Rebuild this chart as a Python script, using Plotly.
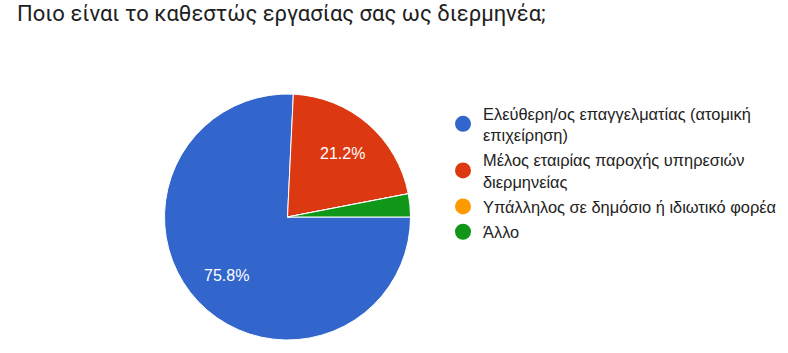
import math
import plotly.graph_objects as go

W, H = 788, 353

title_text = "Ποιο είναι το καθεστώς εργασίας σας ως διερμηνέα;"
categories = [
    "Ελεύθερη/ος επαγγελματίας (ατομική<br>επιχείρηση)",
    "Μέλος εταιρίας παροχής υπηρεσιών<br>διερμηνείας",
    "Υπάλληλος σε δημόσιο ή ιδιωτικό φορέα",
    "Άλλο",
]
counts = [25, 7, 0, 1]
colors = ["#3366cc", "#dc3912", "#ff9900", "#109618"]

total = sum(counts)
shares = [c / total for c in counts]

# pie geometry (pixels)
cx, cy, r = 287.5, 217, 123
start_deg = 90  # first slice starts at 3 o'clock, going clockwise

fig = go.Figure()
fig.add_trace(go.Pie(
    labels=categories,
    values=counts,
    textinfo="none",
    marker=dict(colors=colors, line=dict(color="white", width=1)),
    sort=False,
    direction="clockwise",
    rotation=start_deg,
    showlegend=False,
    hoverinfo="skip",
    domain=dict(x=[(cx - r) / W, (cx + r) / W], y=[1 - (cy + r) / H, 1 - (cy - r) / H]),
))

# percentage labels placed along each slice's mid angle
cum = 0.0
for s in shares:
    mid = start_deg + (cum + s / 2) * 360
    cum += s
    if s < 0.05:
        continue
    a = math.radians(mid)
    px = cx + 0.686 * r * math.sin(a)
    py = cy - 0.686 * r * math.cos(a)
    fig.add_annotation(
        x=px / W, y=1 - py / H, xref="paper", yref="paper",
        text=f"{s * 100:.1f}%", showarrow=False,
        xanchor="center", yanchor="middle",
        font=dict(family="Liberation Sans, Arial", size=16, color="white"),
    )

for i, (name, col) in enumerate(zip(categories, colors)):
    fig.add_trace(go.Scatter(
        x=[None], y=[None], mode="markers", name=name,
        marker=dict(symbol="circle", size=16, color=col),
        legendgroup=f"g{i}",
        showlegend=True, hoverinfo="skip",
    ))

fig.update_layout(
    width=W, height=H,
    margin=dict(l=0, r=0, t=0, b=0),
    paper_bgcolor="white", plot_bgcolor="white",
    xaxis=dict(visible=False), yaxis=dict(visible=False),
    title=dict(
        text=title_text,
        font=dict(family="Roboto", size=22, color="#212121"),
        x=17 / W, xanchor="left", xref="paper",
        y=1 - 13 / H, yanchor="middle", yref="container",
    ),
    legend=dict(
        x=443 / W, xanchor="left",
        y=1 - 96 / H, yanchor="top",
        font=dict(family="Liberation Sans, Arial", size=16.4, color="#222222"),
        bgcolor="rgba(0,0,0,0)",
        tracegroupgap=1,
        itemclick=False, itemdoubleclick=False,
    ),
)

fig.write_html("out.html")
